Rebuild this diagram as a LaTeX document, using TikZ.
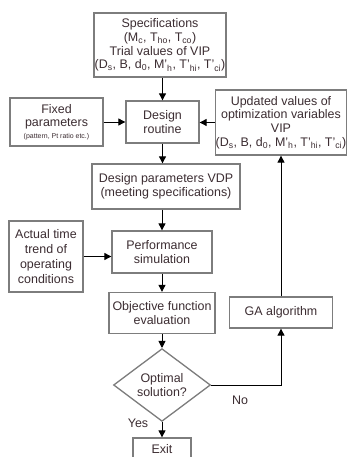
\documentclass[tikz,border=0pt]{standalone}
\usepackage{fontspec}
\setmainfont{Liberation Sans}
\usetikzlibrary{shapes.geometric,arrows.meta,calc}
\definecolor{boxline}{RGB}{125,125,125}
\definecolor{txt}{RGB}{60,45,50}
\newcommand{\sbs}[1]{\textsubscript{#1}}
\begin{document}
\begin{tikzpicture}[x=1bp,y=-1bp,
  box/.style={draw=boxline,line width=1.3bp,fill=white,text=txt,align=center,inner sep=0pt,font=\fontsize{12.5}{13.8}\selectfont},
  arr/.style={draw=black,line width=0.9bp,-{Triangle[length=7bp,width=7bp]}},
  lbl/.style={text=txt,inner sep=0pt,font=\fontsize{12.5}{13.8}\selectfont},
]
\useasboundingbox[fill=white] (0,0) rectangle (346,457);

\node[box,minimum width=132bp,minimum height=64bp] (spec) at (160,45)
  {Specifications\\(M\sbs{c}, T\sbs{ho}, T\sbs{co})\\Trial values of VIP\\(D\sbs{s}, B, d\sbs{0}, M'\sbs{h}, T'\sbs{hi}, T'\sbs{ci})};
\node[box,minimum width=73bp,minimum height=42bp] (design) at (162.5,122) {Design\\routine};
\node[box,minimum width=93bp,minimum height=48bp] (fixed) at (56.5,122)
  {Fixed\\parameters\\[-2bp]{\fontsize{7}{8}\selectfont (pattern, Pt ratio etc.)}};
\node[box,minimum width=126bp,minimum height=65bp] (updated) at (281,122.5)
  {Updated values of\\optimization variables\\VIP\\(D\sbs{s}, B, d\sbs{0}, M'\sbs{h}, T'\sbs{hi}, T'\sbs{ci})};
\node[box,minimum width=148bp,minimum height=45bp] (vdp) at (166,186.5)
  {Design parameters VDP\\(meeting specifications)};
\node[box,minimum width=100bp,minimum height=42bp] (perf) at (162,252)
  {Performance\\simulation};
\node[box,minimum width=74bp,minimum height=71bp,font=\fontsize{12.5}{15}\selectfont] (actual) at (46,256.5)
  {Actual time\\trend of\\operating\\conditions};
\node[box,minimum width=106bp,minimum height=41bp] (obj) at (162,313)
  {Objective function\\evaluation};
\node[box,minimum width=103bp,minimum height=31bp] (ga) at (281,312.5) {GA algorithm};
\node[box,diamond,minimum width=97bp,minimum height=64bp] (dia) at (162,385)
  {Optimal\\solution?};
\node[box,minimum width=58bp,minimum height=22bp] (exit) at (162,449) {Exit};

\node[lbl] (no) at (240,400) {No};
\node[lbl] (yes) at (138,423) {Yes};

\draw[arr] (design.north |- spec.south) -- (design.north);
\draw[arr] (fixed.east) -- (design.west);
\draw[arr] (updated.west) -- (updated.west -| design.east);
\draw[arr] (design.south) -- (design.south |- vdp.north);
\draw[arr] (perf.north |- vdp.south) -- (perf.north);
\draw[arr] (actual.east) -- (actual.east -| perf.west);
\draw[arr] (perf.south) -- (obj.north);
\draw[arr] (obj.south) -- (dia.north);
\draw[arr] (dia.south) -- (exit.north);
\draw[arr] (dia.east) -| (ga.south);
\draw[arr] (ga.north) -- (updated.south);
\end{tikzpicture}
\end{document}
